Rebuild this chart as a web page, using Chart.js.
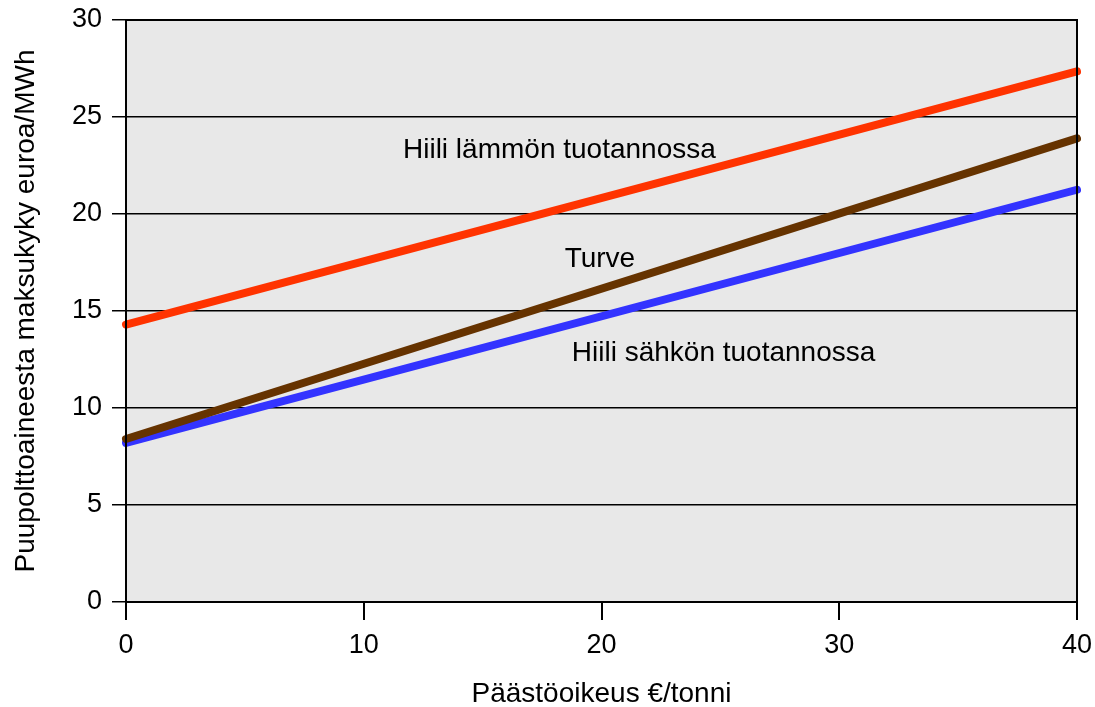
<!DOCTYPE html>
<html>
<head>
<meta charset="utf-8">
<script src="https://cdn.jsdelivr.net/npm/chart.js@4.4.1/dist/chart.umd.min.js"></script>
<style>
  html, body { margin: 0; padding: 0; background: #fff; }
  #wrap { width: 1095px; height: 707px; }
</style>
</head>
<body>
<div id="wrap"><canvas id="c" width="1095" height="707"></canvas></div>
<script>
const xValues = [0, 40];
const lampoValues = [14.3, 27.35];
const turveValues = [8.4, 23.9];
const sahkoValues = [8.2, 21.25];
const seriesNames = ['Hiili lämmön tuotannossa', 'Turve', 'Hiili sähkön tuotannossa'];
const seriesColors = ['#ff3300', '#663300', '#3333ff'];
// label anchors in data units (x, y)
const labelX = [11.65, 18.45, 18.75];
const labelY = [23.3, 17.65, 12.8];

const FONT = '"Liberation Sans", Arial, sans-serif';

const plotFrame = {
    id: 'plotFrame',
    beforeDraw(chart) {
        const { ctx, chartArea: a } = chart;
        ctx.save();
        ctx.fillStyle = '#e8e8e8';
        ctx.fillRect(a.left, a.top, a.right - a.left, a.bottom - a.top);
        ctx.restore();
    },
    afterDatasetsDraw(chart) {
        const { ctx, chartArea: a, scales } = chart;
        ctx.save();
        ctx.strokeStyle = '#000';
        ctx.lineWidth = 2;
        ctx.strokeRect(a.left, a.top, a.right - a.left, a.bottom - a.top);
        ctx.fillStyle = '#000';
        ctx.font = '28px ' + FONT;
        ctx.textAlign = 'left';
        ctx.textBaseline = 'middle';
        seriesNames.forEach((name, i) => {
            ctx.fillText(name, scales.x.getPixelForValue(labelX[i]), scales.y.getPixelForValue(labelY[i]));
        });
        ctx.restore();
    }
};

const toPoints = ys => ys.map((y, i) => ({ x: xValues[i], y }));
const allSeries = [lampoValues, turveValues, sahkoValues];

new Chart(document.getElementById('c'), {
    type: 'line',
    data: {
        datasets: allSeries.map((vals, i) => ({
            label: seriesNames[i],
            data: toPoints(vals),
            borderColor: seriesColors[i],
            borderWidth: 8,
            borderCapStyle: 'round',
            pointRadius: 0,
            tension: 0,
            clip: false
        }))
    },
    options: {
        responsive: false,
        animation: false,
        layout: { padding: { left: 0, right: 18, top: 20, bottom: 0 } },
        plugins: { legend: { display: false }, tooltip: { enabled: false } },
        scales: {
            x: {
                type: 'linear',
                min: 0,
                max: 40,
                border: { display: false },
                grid: { drawOnChartArea: false, drawTicks: true, tickLength: 18, color: '#000', lineWidth: 2 },
                ticks: { stepSize: 10, color: '#000', font: { family: FONT, size: 27, lineHeight: 0.6 }, padding: 17 },
                title: { display: true, text: 'Päästöoikeus €/tonni', color: '#000', font: { family: FONT, size: 28 }, padding: { top: 26, bottom: -4 } },
                afterFit(scale) {
                    scale.height = 105;
                    scale.paddingLeft = 0;
                    scale.paddingRight = 0;
                }
            },
            y: {
                min: 0,
                max: 30,
                border: { display: false },
                grid: { drawTicks: true, tickLength: 14, color: '#000', lineWidth: 1.5 },
                ticks: { stepSize: 5, color: '#000', font: { family: FONT, size: 27, lineHeight: 0.6 }, padding: 10 },
                title: { display: true, text: 'Puupolttoaineesta maksukyky euroa/MWh', color: '#000', font: { family: FONT, size: 28 }, padding: { top: 9, bottom: 0 } },
                afterFit(scale) {
                    scale.width = 126;
                    scale.paddingTop = 0;
                    scale.paddingBottom = 0;
                }
            }
        }
    },
    plugins: [plotFrame]
});
</script>
</body>
</html>
